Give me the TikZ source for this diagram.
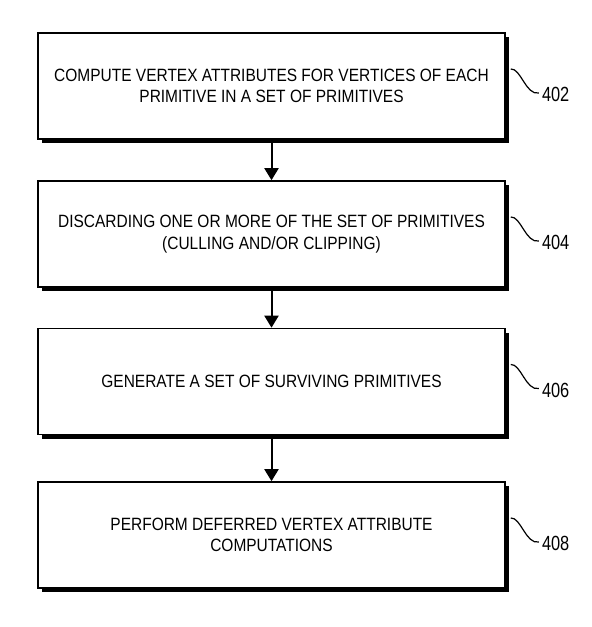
\documentclass[tikz,border=0pt]{standalone}
\usepackage{fontspec}
\setmainfont[FakeStretch=0.87]{Liberation Sans}
\newfontfamily\labelfont[FakeStretch=0.8]{Liberation Sans}
\usetikzlibrary{shadows,arrows.meta,calc}
\begin{document}
\begin{tikzpicture}[x=1pt,y=-1pt,
  stepbox/.style={draw=black, line width=1.6pt, fill=white,
    minimum width=467pt, minimum height=106pt, inner sep=0pt, align=center,
    font=\fontsize{17.8}{21.5}\selectfont,
    drop shadow={shadow xshift=4pt, shadow yshift=-4pt, fill=black, opacity=1}},
  flow/.style={line width=2pt, -{Triangle[width=14pt,length=12pt]}},
  reflabel/.style={anchor=west, inner sep=0pt, font=\labelfont\fontsize{20.5}{22}\selectfont},
  leader/.style={line width=1.2pt}]
\useasboundingbox (0,0) rectangle (592,627);
\fill[white] (0,0) rectangle (592,627);

\node[stepbox] (b1) at (271.5,86) {COMPUTE VERTEX ATTRIBUTES FOR VERTICES OF EACH\\PRIMITIVE IN A SET OF PRIMITIVES};
\node[stepbox] (b2) at (271.5,234) {DISCARDING ONE OR MORE OF THE SET OF PRIMITIVES\\(CULLING AND/OR CLIPPING)};
\node[stepbox] (b3) at (271.5,381.5) {GENERATE A SET OF SURVIVING PRIMITIVES};
\node[stepbox] (b4) at (271.5,535) {PERFORM DEFERRED VERTEX ATTRIBUTE\\COMPUTATIONS};

\draw[flow] (b1.south) -- (b2.north);
\draw[flow] (b2.south) -- (b3.north);
\draw[flow] (b3.south) -- (b4.north);

\foreach \i/\t in {1/402,2/404,3/406,4/408}{
  \node[reflabel] (l\i) at ($(b\i.east)+(36,8.5)$) {\t};
  \coordinate (s\i) at ($(b\i.east)+(5,-17)$);
  \draw[leader] (s\i) .. controls ($(s\i)+(10,-1)$) and ($(l\i.west)+(-16,1)$) .. ($(l\i.west)+(-3,-1.5)$);
}
\end{tikzpicture}
\end{document}
